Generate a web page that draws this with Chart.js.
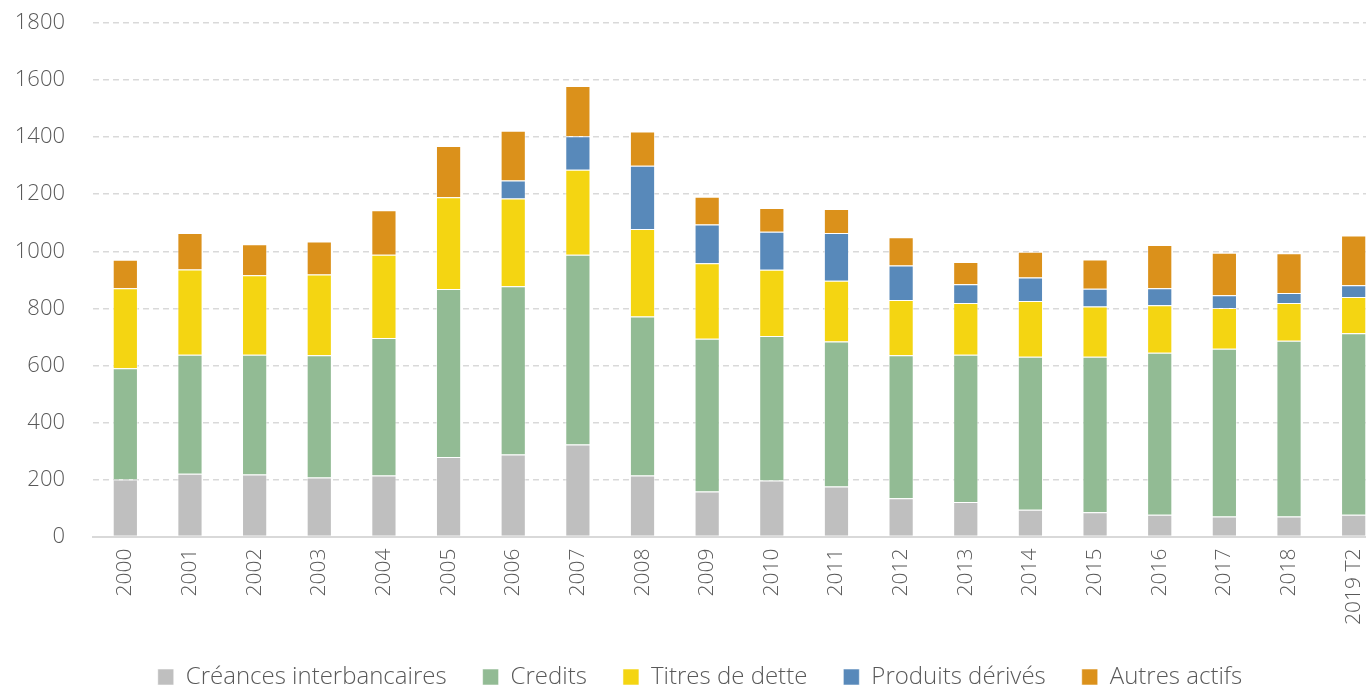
<!DOCTYPE html>
<html>
<head>
<meta charset="utf-8">
<script src="https://cdn.jsdelivr.net/npm/chart.js@4/dist/chart.umd.min.js"></script>
<style>
  html, body { margin: 0; padding: 0; background: #fff; overflow: hidden; }
  #wrap { width: 1366px; height: 689px; overflow: hidden; }
  #box { width: 1390px; height: 689px; }
</style>
</head>
<body>
<div id="wrap"><div id="box"><canvas id="barChart"></canvas></div></div>
<script>
var years = ['2000','2001','2002','2003','2004','2005','2006','2007','2008','2009',
             '2010','2011','2012','2013','2014','2015','2016','2017','2018','2019 T2'];

var creances = [200,220,218,207,214,279,288,323,214,158,197,176,134,121,94,85,77,70,70,77];
var credits  = [390,417,419,429,482,589,589,665,557,535,506,508,502,516,536,545,567,588,616,636];
var titres   = [280,299,279,283,292,321,308,298,307,265,232,213,193,182,196,176,167,143,133,127];
var derives  = [0,0,0,0,0,0,63,117,222,136,133,167,121,65,82,63,59,45,35,41];
var autres   = [100,128,109,115,156,180,174,176,120,97,84,84,99,78,90,102,152,149,139,174];

var yTicks = [0,200,400,600,800,1000,1200,1400,1600,1800];

var grey = '#595959';
var fontName = '"Open Sans", "Noto Sans", sans-serif';

function serie(label, data, color){
	return {
		label: label,
		data: data,
		backgroundColor: color,
		borderColor: 'rgba(255,255,255,0.55)',
		borderWidth: 1,
		barPercentage: 0.39,
		categoryPercentage: 1
	};
}

var ctx = document.getElementById('barChart').getContext('2d');
var chart = new Chart(ctx, {
	type: 'bar',
	data: {
		labels: years,
		datasets: [
			serie('Créances interbancaires', creances, '#BFBFBF'),
			serie('Credits', credits, '#92BB94'),
			serie('Titres de dette', titres, '#F4D512'),
			serie('Produits dérivés', derives, '#5889BA'),
			serie('Autres actifs', autres, '#DB911B')
		]
	},
	options: {
		responsive: true,
		maintainAspectRatio: false,
		animation: false,
		layout: { padding: { top: 0, left: 14, right: 4, bottom: -10 } },
		plugins: {
			tooltip: { enabled: false },
			legend: {
				position: 'bottom',
				labels: {
					color: grey,
					font: { family: fontName, size: 24, weight: 300 },
					boxWidth: 16,
					boxHeight: 16,
					padding: 36
				}
			}
		},
		scales: {
			x: {
				stacked: true,
				grid: { display: false },
				border: { display: true, color: '#D9D9D9', width: 2 },
				ticks: {
					color: grey,
					font: { family: fontName, size: 21, weight: 300 },
					minRotation: 90,
					maxRotation: 90,
					padding: 4
				}
			},
			y: {
				stacked: true,
				min: 0,
				max: 1800,
				afterBuildTicks: function(axis){
					axis.ticks = yTicks.map(function(v){ return { value: v }; });
				},
				afterFit: function(axis){
					// keep the plot area where the reference puts it
					axis.width = 79;
					axis.paddingTop = 23;
					axis.paddingBottom = 14;
				},
				grid: { color: '#D9D9D9', lineWidth: 1.5, drawTicks: false },
				border: { display: false, dash: [6, 4] },
				ticks: {
					color: grey,
					font: { family: fontName, size: 22, weight: 300 },
					padding: 28,
					callback: function(v){ return String(v); }
				}
			}
		}
	}
});
</script>
</body>
</html>
